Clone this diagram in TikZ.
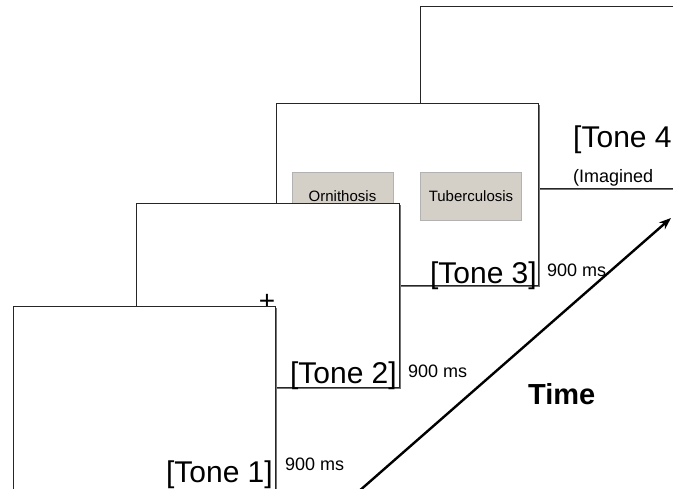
\documentclass[tikz,border=0pt]{standalone}
\usepackage{fontspec}
\setmainfont{Liberation Sans}
\usetikzlibrary{arrows.meta,shadows}
\definecolor{btn}{RGB}{212,208,200}
\tikzset{
  screen/.style={draw=black!85, line width=0.9pt, fill=white, inner sep=0pt,
    drop shadow={shadow xshift=2pt, shadow yshift=-2pt, fill=black!55, opacity=1}},
  button/.style={draw=black!30, line width=0.8pt, fill=btn, inner sep=0pt,
    minimum width=101pt, minimum height=48pt, font=\fontsize{15}{16}\selectfont},
  tone/.style={anchor=base east, inner sep=0pt, font=\fontsize{30}{32}\selectfont},
  dur/.style={anchor=base west, inner sep=0pt, font=\fontsize{18}{20}\selectfont},
}
\begin{document}
\begin{tikzpicture}[x=1pt,y=-1pt]
\useasboundingbox (0,0) rectangle (673,488);

% fourth screen (back)
\node[screen, minimum width=280pt, minimum height=182pt, anchor=north west] (s4) at (420,6) {};
\node[tone, anchor=base west] (t4) at (573,147) {[Tone 4};
\node[anchor=base west, inner sep=0pt, font=\fontsize{18}{20}\selectfont] (im) at (573,182) {(Imagined};

% third screen with the two answer buttons
\node[screen, minimum width=262pt, minimum height=182pt, anchor=north west] (s3) at (276,103) {};
\node[button] (b1) at (342.5,196) {Ornithosis};
\node[button] (b2) at (471,196) {Tuberculosis};
\node[tone] (t3) at (537,283) {[Tone 3]};
\node[dur] (d3) at (547,276) {900 ms};

% second screen with fixation cross
\node[screen, minimum width=263pt, minimum height=184pt, anchor=north west] (s2) at (136,203) {};
\node[inner sep=0pt, font=\fontsize{28}{30}\selectfont] (fx) at (267,302) {+};
\node[tone] (t2) at (397,383) {[Tone 2]};
\node[dur] (d2) at (408,377) {900 ms};

% first screen (front)
\node[screen, minimum width=262pt, minimum height=200pt, anchor=north west] (s1) at (13,306) {};
\node[tone] (t1) at (273,482) {[Tone 1]};
\node[dur] (d1) at (285,470) {900 ms};

% time axis
\coordinate (ta) at (358,492);
\coordinate (tb) at (671,218);
\draw[line width=2.4pt, -{Stealth[length=12pt,width=9pt]}] (ta) -- (tb);
\node[inner sep=0pt, anchor=base west, font=\fontsize{29}{31}\selectfont\bfseries] (tm) at (528,404) {Time};
\end{tikzpicture}
\end{document}
